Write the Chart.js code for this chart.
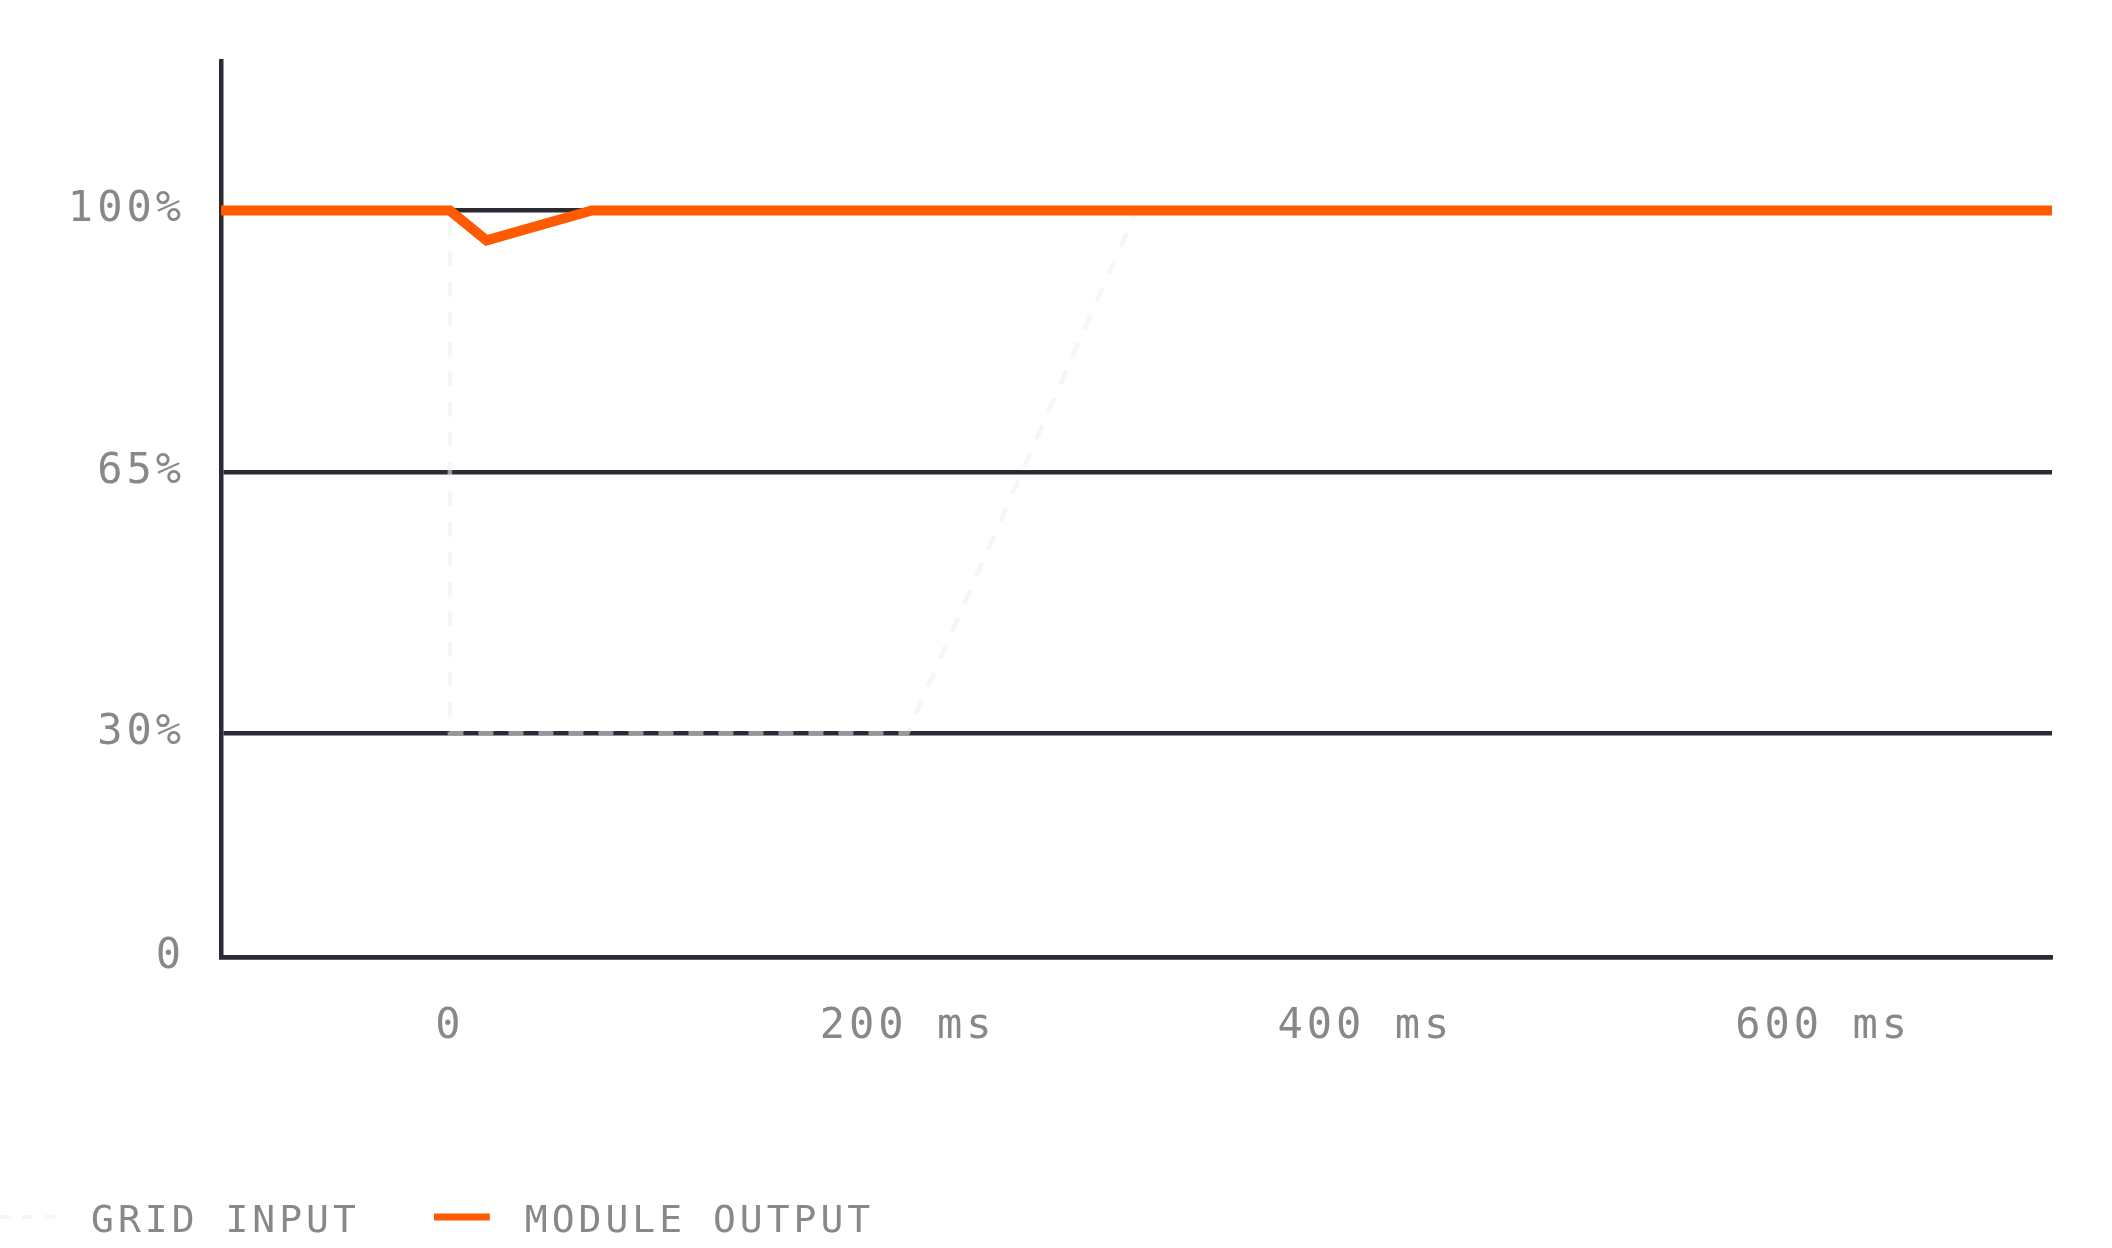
<!DOCTYPE html>
<html>
<head>
  <title>Grid input vs module output</title>
  <script src="https://cdn.jsdelivr.net/npm/chart.js"></script>
  <style>
    html, body { margin: 0; padding: 0; background: #fff; }
    #wrap { width: 2112px; height: 1248px; }
  </style>
</head>
<body>
  <div id="wrap"><canvas id="chart"></canvas></div>

  <script>
    // series values (time in ms, level in %)
    const seriesNames = ['GRID INPUT', 'MODULE OUTPUT'];
    const gridTime = [-100, 0, 0, 200, 300, 700];
    const gridLevel = [100, 100, 30, 30, 100, 100];
    const moduleTime = [-100, 0, 16, 62, 700];
    const moduleLevel = [100, 100, 96, 100, 100];
    const xTicks = [0, 200, 400, 600];
    const yTicks = [0, 30, 65, 100];

    const orange = '#ff5a00';
    const faint = 'rgba(238, 238, 242, 0.55)';
    const axisColor = '#2b2b33';
    const labelColor = '#888888';
    const mono = 'DejaVu Sans Mono';

    // legend swatch: short line in the left part of a small canvas
    function swatch(color, width, dash) {
      const c = document.createElement('canvas');
      c.width = 72;
      c.height = 20;
      const g = c.getContext('2d');
      g.strokeStyle = color;
      g.lineWidth = width;
      g.setLineDash(dash);
      g.beginPath();
      g.moveTo(0, 5);
      g.lineTo(56, 5);
      g.stroke();
      return c;
    }

    // letter spacing for the monospaced labels, and the legend row at the very bottom
    const layoutTweaks = {
      id: 'layoutTweaks',
      beforeLayout(chart) { chart.ctx.letterSpacing = '4px'; },
      afterLayout(chart) {
        const lg = chart.legend;
        lg.left = -74;
        lg.right = chart.width;
        lg.top = 1129;
        lg.bottom = chart.height;
        lg.width = lg.right - lg.left;
        lg.height = lg.bottom - lg.top;
      },
      beforeDraw(chart) { chart.ctx.letterSpacing = '4px'; }
    };

    const toPoints = (xs, ys) => xs.map((x, i) => ({ x: x, y: ys[i] }));

    const ctx = document.getElementById('chart').getContext('2d');
    const chart = new Chart(ctx, {
      type: 'line',
      data: {
        datasets: [
          {
            label: seriesNames[0],
            data: toPoints(gridTime, gridLevel),
            borderColor: faint,
            backgroundColor: faint,
            borderWidth: 4.5,
            borderDash: [15, 15],
            pointRadius: 0,
            pointHoverRadius: 0,
            pointStyle: swatch(faint, 4, [11, 11]),
            order: 2
          },
          {
            label: seriesNames[1],
            data: toPoints(moduleTime, moduleLevel),
            borderColor: orange,
            backgroundColor: orange,
            borderWidth: 10,
            borderCapStyle: 'round',
            pointRadius: 0,
            pointHoverRadius: 0,
            pointStyle: swatch(orange, 7, []),
            order: 1
          }
        ]
      },
      options: {
        responsive: true,
        maintainAspectRatio: false,
        animation: false,
        layout: {
          padding: { left: 0, right: 60, top: 61, bottom: 110 }
        },
        plugins: {
          tooltip: { enabled: false },
          legend: {
            position: 'bottom',
            align: 'start',
            maxHeight: 10,
            labels: {
              usePointStyle: true,
              pointStyleWidth: 72,
              padding: 74,
              color: labelColor,
              font: { family: mono, size: 38 },
              sort: (a, b) => a.datasetIndex - b.datasetIndex
            }
          }
        },
        scales: {
          x: {
            type: 'linear',
            min: -100,
            max: 700,
            afterBuildTicks: scale => { scale.ticks = xTicks.map(v => ({ value: v })); },
            afterFit: scale => { scale.height = 171; },
            grid: { display: false, drawTicks: false },
            border: { display: true, color: axisColor, width: 4.5 },
            ticks: {
              padding: 45,
              color: labelColor,
              font: { family: mono, size: 42 },
              callback: v => v === 0 ? '0' : v + ' ms'
            }
          },
          y: {
            type: 'linear',
            min: 0,
            max: 120,
            afterBuildTicks: scale => { scale.ticks = yTicks.map(v => ({ value: v })); },
            afterFit: scale => { scale.width = 221; },
            grid: { color: axisColor, lineWidth: 4.5, drawTicks: false },
            border: { display: true, color: axisColor, width: 4.5 },
            ticks: {
              padding: 36,
              color: labelColor,
              font: { family: mono, size: 42 },
              callback: v => v === 0 ? '0' : v + '%'
            }
          }
        }
      },
      plugins: [layoutTweaks]
    });
  </script>
</body>
</html>
